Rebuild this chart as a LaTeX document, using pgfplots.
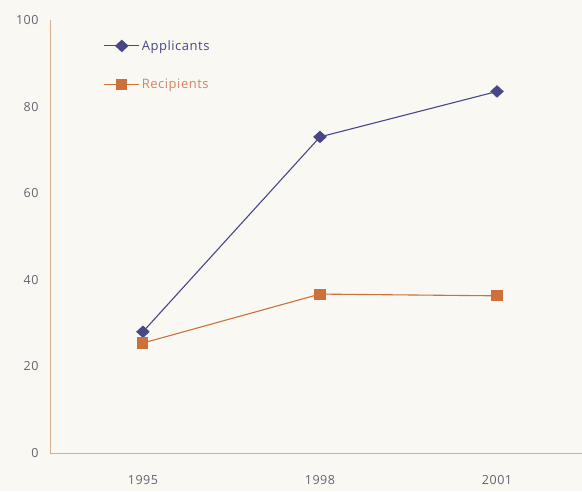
\documentclass[border=0pt]{standalone}
\usepackage{pgfplots}
\pgfplotsset{compat=1.18}
\usepackage{fontspec}
\setmainfont{Open Sans}[LetterSpace=4]
\definecolor{paper}{RGB}{249,248,242}
\definecolor{appl}{RGB}{72,72,135}
\definecolor{reci}{RGB}{205,112,58}
\definecolor{recitext}{RGB}{214,130,100}
\definecolor{axisc}{RGB}{214,176,140}
\definecolor{tickc}{RGB}{100,100,110}
\begin{document}
\begin{tikzpicture}[x=1pt,y=1pt]
\fill[paper] (-50,-38) rectangle (532,453);
\path[use as bounding box] (-50,-38) rectangle (532,453);
\begin{axis}[
  at={(0,0)}, anchor=south west,
  scale only axis,
  width=532pt, height=433pt,
  xmin=-0.525, xmax=2.48,
  ymin=0, ymax=100,
  axis x line=bottom, axis y line=left,
  axis line style={axisc, line width=0.9pt, -},
  xtick={0,1,2}, xticklabels={1995,1998,2001},
  ytick={0,20,40,60,80,100},
  major tick length=0pt,
  tick style={draw=none},
  x tick label style={yshift=-19pt},
  y tick label style={xshift=-8pt},
  ticklabel style={font=\fontsize{12.5}{14}\selectfont, text=tickc},
  /pgf/number format/assume math mode=true,
  clip=false,
  legend style={draw=none, fill=none, at={(axis description cs:0.095,0.963)},
    anchor=north west, row sep=23pt, font=\fontsize{13}{15}\selectfont},
  legend cell align=left,
  legend image code/.code={
    \draw[#1, mark indices={2}] plot coordinates {(0pt,0pt) (17.5pt,0pt) (35pt,0pt)};
  },
]
\addplot[appl, line width=1.1pt, mark=diamond*, mark size=5.5pt,
  mark options={solid, fill=appl, xscale=1.45}] coordinates {(0,28) (1,73) (2,83.5)};
\addlegendentry{\textcolor{appl}{Applicants}}
\addplot[reci, line width=1.1pt, mark=square*, mark size=5pt,
  mark options={solid, fill=reci}] coordinates {(0,25.4) (1,36.7) (2,36.3)};
\addlegendentry{\textcolor{recitext}{Recipients}}
\end{axis}
\end{tikzpicture}
\end{document}
